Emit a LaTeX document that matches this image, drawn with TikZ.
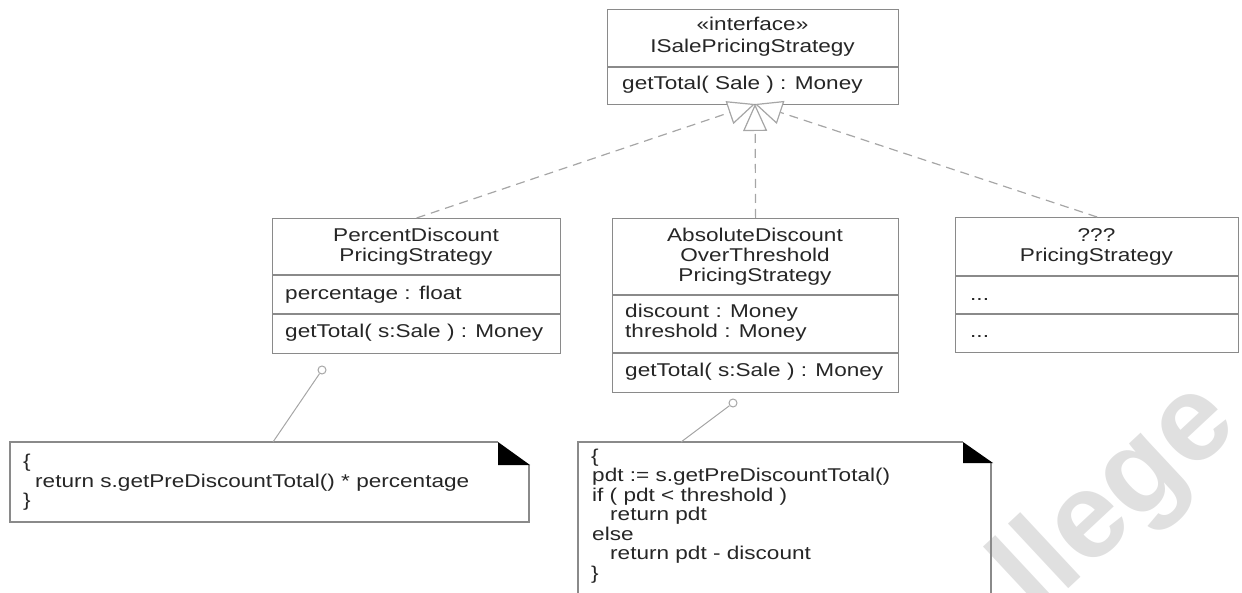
\documentclass[tikz,border=0pt]{standalone}
\usepackage{fontspec}
\newfontfamily\umlfont{Liberation Sans}[FakeStretch=1.22]
\newfontfamily\markfont{Liberation Sans}
\usetikzlibrary{arrows.meta}
\definecolor{umlgray}{HTML}{8A8A8A}
\definecolor{linkgray}{HTML}{A6A6A6}
\definecolor{inkgray}{HTML}{262626}
\definecolor{markgray}{HTML}{E0E0E0}
\begin{document}
\begin{tikzpicture}[x=1pt,y=-1pt,
  umlbox/.style={draw=umlgray, line width=1.2pt, rectangle, inner sep=0pt,
    anchor=north west, fill=white},
  umlrule/.style={draw=umlgray, line width=1.2pt},
  ltxt/.style={font=\umlfont\fontsize{18.5}{20}\selectfont, text=inkgray,
    inner sep=0pt, anchor=base west},
  ctxt/.style={ltxt, anchor=base},
  realize/.style={draw=linkgray, line width=1.2pt, dash pattern=on 9pt off 6pt,
    -{Triangle[open, length=27pt, width=24pt, fill=white]}},
  notearea/.style={rectangle, inner sep=0pt, anchor=north west},
  noteline/.style={draw=umlgray, line width=1.2pt},
  attach/.style={draw=linkgray, line width=1pt},
  pin/.style={circle, draw=linkgray, line width=1pt, minimum size=8pt,
    inner sep=0pt},
]
\useasboundingbox (0,0) rectangle (1242,593);
\clip (0,0) rectangle (1242,593);

% faint watermark lettering
\node[rotate=43, text=markgray,
  font=\markfont\bfseries\fontsize{122}{122}\selectfont] (mark) at (1118,500) {llege};

% interface
\node[umlbox, minimum width=291pt, minimum height=95pt] (iface) at (607,9) {};
\draw[umlrule] (607,67) -- (898,67);
\node[ctxt] (iface-st) at (752.5,31) {«interface»};
\node[ctxt] (iface-nm) at (752.5,53) {ISalePricingStrategy};
\node[ltxt] (iface-op) at (622,90) {getTotal( Sale ) : Money};

% PercentDiscountPricingStrategy
\node[umlbox, minimum width=288pt, minimum height=135pt] (pds) at (272,218) {};
\draw[umlrule] (272,275) -- (560,275);
\draw[umlrule] (272,314) -- (560,314);
\node[ctxt] (pds-n1) at (416,242) {PercentDiscount};
\node[ctxt] (pds-n2) at (416,262) {PricingStrategy};
\node[ltxt] (pds-a1) at (285,300) {percentage : float};
\node[ltxt] (pds-op) at (285,338) {getTotal( s:Sale ) : Money};

% AbsoluteDiscountOverThresholdPricingStrategy
\node[umlbox, minimum width=286pt, minimum height=174pt] (abs) at (612,218) {};
\draw[umlrule] (612,295) -- (898,295);
\draw[umlrule] (612,353) -- (898,353);
\node[ctxt] (abs-n1) at (755,242) {AbsoluteDiscount};
\node[ctxt] (abs-n2) at (755,262) {OverThreshold};
\node[ctxt] (abs-n3) at (755,282) {PricingStrategy};
\node[ltxt] (abs-a1) at (625,318) {discount : Money};
\node[ltxt] (abs-a2) at (625,338) {threshold : Money};
\node[ltxt] (abs-op) at (625,377) {getTotal( s:Sale ) : Money};

% ???PricingStrategy
\node[umlbox, minimum width=283pt, minimum height=135pt] (unk) at (955,217) {};
\draw[umlrule] (955,276) -- (1238,276);
\draw[umlrule] (955,314) -- (1238,314);
\node[ctxt] (unk-n1) at (1096.5,242) {???};
\node[ctxt] (unk-n2) at (1096.5,262) {PricingStrategy};
\node[ltxt] (unk-a1) at (970,301) {...};
\node[ltxt] (unk-op) at (970,338) {...};

% realizations of the interface
\coordinate (tip) at (755,104);
\draw[realize] (pds.north) -- (tip);
\draw[realize] (abs.north) -- (tip);
\draw[realize] (unk.north) -- (tip);

% note for PercentDiscountPricingStrategy
\node[notearea, minimum width=519pt, minimum height=80pt] (note1) at (10,442) {};
\draw[noteline] (498,442) -- (10,442) -- (10,522) -- (529,522) -- (529,465);
\fill[black] (498,442) -- (498,465) -- (530,465) -- cycle;
\node[ltxt] (n1-l1) at (23,467) {\{};
\node[ltxt] (n1-l2) at (35,487) {return s.getPreDiscountTotal() * percentage};
\node[ltxt] (n1-l3) at (23,506) {\}};

% note for AbsoluteDiscountOverThresholdPricingStrategy
\node[notearea, minimum width=413pt, minimum height=158pt] (note2) at (578,442) {};
\draw[noteline] (963,442) -- (578,442) -- (578,610) -- (991,610) -- (991,463);
\fill[black] (963,442) -- (963,463) -- (993,463) -- cycle;
\node[ltxt] (n2-l1) at (591,462) {\{};
\node[ltxt] (n2-l2) at (592,481.5) {pdt := s.getPreDiscountTotal()};
\node[ltxt] (n2-l3) at (592,501) {if ( pdt < threshold )};
\node[ltxt] (n2-l4) at (610,520.5) {return pdt};
\node[ltxt] (n2-l5) at (592,540) {else};
\node[ltxt] (n2-l6) at (610,559.5) {return pdt - discount};
\node[ltxt] (n2-l7) at (591,579) {\}};

% note attachments
\node[pin] (pin1) at (322,370) {};
\coordinate (note1-att) at (273,442);
\draw[attach] (pin1) -- (note1-att);
\node[pin] (pin2) at (733,403) {};
\coordinate (note2-att) at (681,442);
\draw[attach] (pin2) -- (note2-att);
\end{tikzpicture}
\end{document}
